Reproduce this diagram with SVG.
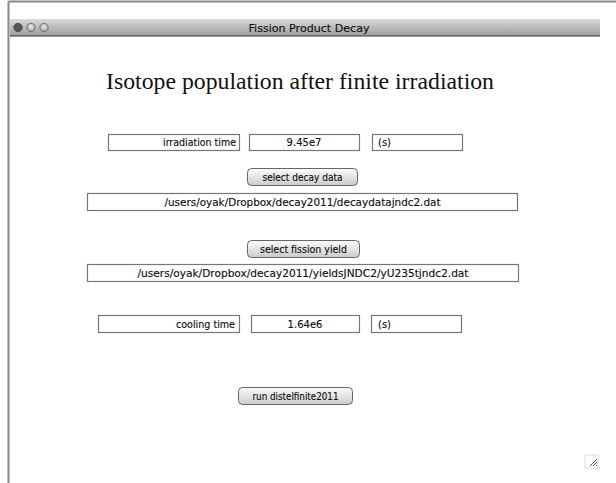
<svg xmlns="http://www.w3.org/2000/svg" width="616" height="483" viewBox="0 0 616 483">
<defs>
<linearGradient id="tb" x1="0" y1="0" x2="0" y2="1">
<stop offset="0" stop-color="#d9d9d9"/>
<stop offset="1" stop-color="#9e9e9e"/>
</linearGradient>
<linearGradient id="btn" x1="0" y1="0" x2="0" y2="1">
<stop offset="0" stop-color="#fbfbfb"/>
<stop offset="0.5" stop-color="#e4e4e4"/>
<stop offset="1" stop-color="#cbcbcb"/>
</linearGradient>
<radialGradient id="light" cx="0.5" cy="0.4" r="0.6">
<stop offset="0" stop-color="#f0f0f0"/>
<stop offset="1" stop-color="#999"/>
</radialGradient>
</defs>
<style>
.ui{font-family:"DejaVu Sans","Liberation Sans",sans-serif;font-size:10px;fill:#111;stroke:#111;stroke-width:0.15}
.field{fill:#fff;stroke:#777;stroke-width:1.2}
.button{fill:url(#btn);stroke:#666;stroke-width:1}
</style>
<rect x="0" y="0" width="616" height="483" fill="#fff"/>
<g id="frame">
<line x1="8.5" y1="1.5" x2="616" y2="1.5" stroke="#888" stroke-width="2"/>
<line x1="8.5" y1="1.5" x2="8.5" y2="483" stroke="#888" stroke-width="2"/>
</g>
<g id="titlebar">
<rect x="10" y="19" width="590" height="17" fill="url(#tb)"/>
<line x1="10" y1="36" x2="600" y2="36" stroke="#333" stroke-width="1.2"/>
<circle cx="18" cy="27.5" r="4.2" fill="#555" stroke="#444" stroke-width="0.8"/>
<circle cx="31" cy="27.5" r="4.2" fill="url(#light)" stroke="#666" stroke-width="0.8"/>
<circle cx="44" cy="27.5" r="4.2" fill="url(#light)" stroke="#666" stroke-width="0.8"/>
<text x="309" y="31.5" text-anchor="middle" class="ui" textLength="121" lengthAdjust="spacingAndGlyphs">Fission Product Decay</text>
</g>
<g id="heading">
<text x="300" y="89" text-anchor="middle" font-family="Liberation Serif, serif" font-size="23.5" fill="#111" textLength="388" lengthAdjust="spacingAndGlyphs">Isotope population after finite irradiation</text>
</g>
<g id="irradiation-label">
<rect class="field" x="108.5" y="134.5" width="131" height="16"/>
<text class="ui" x="236" y="146" text-anchor="end" textLength="73" lengthAdjust="spacingAndGlyphs">irradiation time</text>
</g>
<g id="irradiation-value">
<rect class="field" x="249.5" y="134.5" width="110" height="16"/>
<text class="ui" x="304" y="146" text-anchor="middle">9.45e7</text>
</g>
<g id="irradiation-unit">
<rect class="field" x="372.5" y="134.5" width="90" height="16"/>
<text class="ui" x="378" y="146">(s)</text>
</g>
<g id="select-decay-data">
<rect class="button" x="247.5" y="168.5" width="110" height="17" rx="4"/>
<text class="ui" x="302.5" y="180.5" text-anchor="middle" textLength="80" lengthAdjust="spacingAndGlyphs">select decay data</text>
</g>
<g id="decay-path">
<rect class="field" x="87.5" y="193.5" width="430" height="17"/>
<text class="ui" x="302.5" y="205.5" text-anchor="middle" textLength="276" lengthAdjust="spacingAndGlyphs">/users/oyak/Dropbox/decay2011/decaydatajndc2.dat</text>
</g>
<g id="select-fission-yield">
<rect class="button" x="247.5" y="240.5" width="112" height="17" rx="4"/>
<text class="ui" x="303.5" y="252.5" text-anchor="middle" textLength="87" lengthAdjust="spacingAndGlyphs">select fission yield</text>
</g>
<g id="yield-path">
<rect class="field" x="87.5" y="264.5" width="431" height="17"/>
<text class="ui" x="303" y="276.5" text-anchor="middle" textLength="331" lengthAdjust="spacingAndGlyphs">/users/oyak/Dropbox/decay2011/yieldsJNDC2/yU235tjndc2.dat</text>
</g>
<g id="cooling-label">
<rect class="field" x="98.5" y="315.5" width="141" height="17"/>
<text class="ui" x="235" y="327.5" text-anchor="end" textLength="59" lengthAdjust="spacingAndGlyphs">cooling time</text>
</g>
<g id="cooling-value">
<rect class="field" x="251.5" y="315.5" width="108" height="17"/>
<text class="ui" x="305" y="327.5" text-anchor="middle">1.64e6</text>
</g>
<g id="cooling-unit">
<rect class="field" x="371.5" y="315.5" width="90" height="17"/>
<text class="ui" x="378" y="327.5">(s)</text>
</g>
<g id="run-button">
<rect class="button" x="238.5" y="387.5" width="114" height="17" rx="4"/>
<text class="ui" x="295.5" y="399.5" text-anchor="middle" textLength="86" lengthAdjust="spacingAndGlyphs">run distelfinite2011</text>
</g>
<g id="grip">
<rect x="585" y="455" width="13" height="13" fill="#fff" stroke="#ddd" stroke-width="1"/>
<line x1="590" y1="466" x2="597" y2="459" stroke="#555" stroke-width="1"/>
<line x1="593" y1="466" x2="597" y2="462" stroke="#555" stroke-width="1"/>
<line x1="596" y1="466" x2="597" y2="465" stroke="#555" stroke-width="1"/>
</g>
</svg>
